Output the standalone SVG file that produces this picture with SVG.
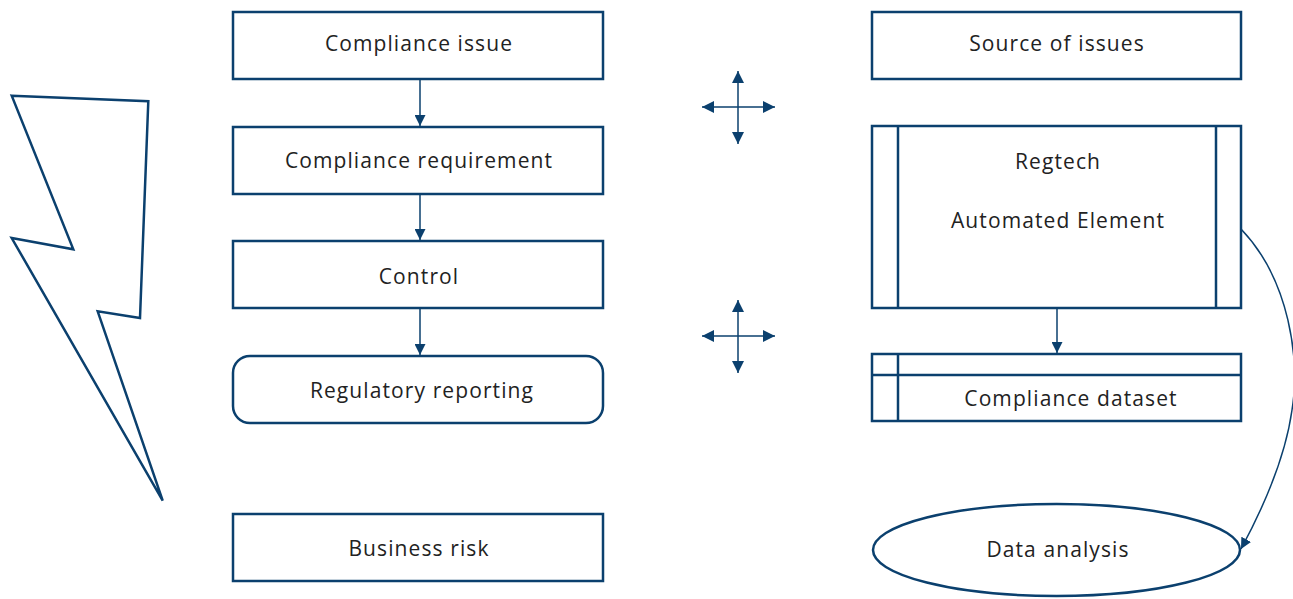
<svg xmlns="http://www.w3.org/2000/svg" width="1293" height="599" viewBox="0 0 1293 599">
<style>
.b{fill:#fff;stroke:#0b406e;stroke-width:2.5}
.l{fill:none;stroke:#0b406e;stroke-width:1.5}
.t{font-family:"Open Sans","Noto Sans",sans-serif;font-size:21px;fill:#222;text-anchor:middle;letter-spacing:1.1px}
</style>
<defs>
<marker id="ah" viewBox="0 0 10 10" refX="10" refY="5" markerWidth="11" markerHeight="11" markerUnits="userSpaceOnUse" orient="auto">
<path d="M0,0 L10,5 L0,10 z" fill="#0b406e"/>
</marker>
<marker id="ah2" viewBox="0 0 10 10" refX="10" refY="5" markerWidth="12" markerHeight="12" markerUnits="userSpaceOnUse" orient="auto">
<path d="M0,0 L10,5 L0,10 z" fill="#0b406e"/>
</marker>
</defs>
<g id="lightning"><polygon class="b" points="11.7,95.7 148.3,101.3 140,318 97.7,311.3 162.7,500.7 11.7,238 73.3,249.3"/></g>
<g id="n1"><rect class="b" x="233" y="12" width="370" height="67"/><text class="t" x="419" y="51">Compliance issue</text></g>
<g id="n2"><rect class="b" x="233" y="127" width="370" height="67"/><text class="t" x="419" y="168">Compliance requirement</text></g>
<g id="n3"><rect class="b" x="233" y="241" width="370" height="67"/><text class="t" x="419" y="284">Control</text></g>
<g id="n4"><rect class="b" x="233" y="356" width="370" height="67" rx="17"/><text class="t" x="422" y="398">Regulatory reporting</text></g>
<g id="n5"><rect class="b" x="233" y="514" width="370" height="67"/><text class="t" x="419" y="556">Business risk</text></g>
<g id="n6"><rect class="b" x="872" y="12" width="369" height="67"/><text class="t" x="1057" y="51">Source of issues</text></g>
<g id="n7"><rect class="b" x="872" y="126" width="369" height="182"/><line class="b" x1="898" y1="126" x2="898" y2="308"/><line class="b" x1="1216" y1="126" x2="1216" y2="308"/><text class="t" x="1058" y="169">Regtech</text><text class="t" x="1058" y="228">Automated Element</text></g>
<g id="n8"><rect class="b" x="872" y="354" width="369" height="67"/><line class="b" x1="872" y1="375" x2="1241" y2="375"/><line class="b" x1="898" y1="354" x2="898" y2="421"/><text class="t" x="1071" y="406">Compliance dataset</text></g>
<g id="n9"><ellipse class="b" cx="1056.5" cy="550" rx="183.5" ry="46"/><text class="t" x="1058" y="557">Data analysis</text></g>
<g id="connectors">
<line class="l" x1="420" y1="79" x2="420" y2="126" marker-end="url(#ah)"/>
<line class="l" x1="420" y1="194" x2="420" y2="240" marker-end="url(#ah)"/>
<line class="l" x1="420" y1="308" x2="420" y2="355" marker-end="url(#ah)"/>
<line class="l" x1="1057" y1="308" x2="1057" y2="353" marker-end="url(#ah)"/>
<path class="l" d="M1241,229 C1290,280 1300,360 1292,410 C1285,460 1262,510 1241,549" marker-end="url(#ah)"/>
<line class="l" x1="738" y1="107" x2="702" y2="107" marker-end="url(#ah2)"/>
<line class="l" x1="738" y1="107" x2="775" y2="107" marker-end="url(#ah2)"/>
<line class="l" x1="738" y1="107" x2="738" y2="71" marker-end="url(#ah2)"/>
<line class="l" x1="738" y1="107" x2="738" y2="144" marker-end="url(#ah2)"/>
<line class="l" x1="738" y1="336" x2="702" y2="336" marker-end="url(#ah2)"/>
<line class="l" x1="738" y1="336" x2="775" y2="336" marker-end="url(#ah2)"/>
<line class="l" x1="738" y1="336" x2="738" y2="300" marker-end="url(#ah2)"/>
<line class="l" x1="738" y1="336" x2="738" y2="373" marker-end="url(#ah2)"/>
</g>
</svg>
